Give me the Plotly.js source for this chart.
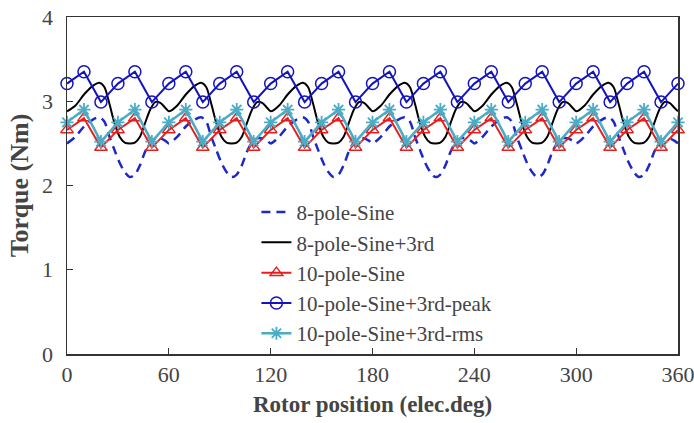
<!DOCTYPE html>
<html>
<head>
<meta charset="utf-8">
<script src="https://cdn.plot.ly/plotly-3.0.1.min.js"></script>
<style>html,body{margin:0;padding:0;background:#fff;}#chart{width:694px;height:423px;}</style>
</head>
<body>
<div id="chart"></div>
<script>
// Smooth curves (8-pole) sampled positions, elec. deg
const xSmooth = [
  0,5,10,15,19,22,25,28,31,34,37,40,43,46,49,52,55,58,
  60,65,70,75,79,82,85,88,91,94,97,100,103,106,109,112,115,118,
  120,125,130,135,139,142,145,148,151,154,157,160,163,166,169,172,175,178,
  180,185,190,195,199,202,205,208,211,214,217,220,223,226,229,232,235,238,
  240,245,250,255,259,262,265,268,271,274,277,280,283,286,289,292,295,298,
  300,305,310,315,319,322,325,328,331,334,337,340,343,346,349,352,355,358,
  360
];
const pole8Sine = [
  2.50,2.58,2.70,2.78,2.81,2.76,2.58,2.42,2.27,2.16,2.10,2.13,2.24,2.40,2.51,2.56,2.56,2.53,
  2.50,2.58,2.70,2.78,2.81,2.76,2.58,2.42,2.27,2.16,2.10,2.13,2.24,2.40,2.51,2.56,2.56,2.53,
  2.50,2.58,2.70,2.78,2.81,2.76,2.58,2.42,2.27,2.16,2.10,2.13,2.24,2.40,2.51,2.56,2.56,2.53,
  2.50,2.58,2.70,2.78,2.81,2.76,2.58,2.42,2.27,2.16,2.10,2.13,2.24,2.40,2.51,2.56,2.56,2.53,
  2.50,2.58,2.70,2.78,2.81,2.76,2.58,2.42,2.27,2.16,2.10,2.13,2.24,2.40,2.51,2.56,2.56,2.53,
  2.50,2.58,2.70,2.78,2.81,2.76,2.58,2.42,2.27,2.16,2.10,2.13,2.24,2.40,2.51,2.56,2.56,2.53,
  2.50
];
const pole8Sine3rd = [
  2.88,2.95,3.08,3.18,3.22,3.17,2.97,2.74,2.58,2.51,2.50,2.51,2.58,2.74,2.90,2.99,2.98,2.92,
  2.88,2.95,3.08,3.18,3.22,3.17,2.97,2.74,2.58,2.51,2.50,2.51,2.58,2.74,2.90,2.99,2.98,2.92,
  2.88,2.95,3.08,3.18,3.22,3.17,2.97,2.74,2.58,2.51,2.50,2.51,2.58,2.74,2.90,2.99,2.98,2.92,
  2.88,2.95,3.08,3.18,3.22,3.17,2.97,2.74,2.58,2.51,2.50,2.51,2.58,2.74,2.90,2.99,2.98,2.92,
  2.88,2.95,3.08,3.18,3.22,3.17,2.97,2.74,2.58,2.51,2.50,2.51,2.58,2.74,2.90,2.99,2.98,2.92,
  2.88,2.95,3.08,3.18,3.22,3.17,2.97,2.74,2.58,2.51,2.50,2.51,2.58,2.74,2.90,2.99,2.98,2.92,
  2.88
];
// Marker series (10-pole) positions, elec. deg
const xMarked = [0,10,20,30,40,50,60,70,80,90,100,110,120,130,140,150,160,170,180,
  190,200,210,220,230,240,250,260,270,280,290,300,310,320,330,340,350,360];
const pole10Sine = [2.66,2.80,2.45,2.66,2.80,2.45,2.66,2.80,2.45,2.66,2.80,2.45,2.66,2.80,2.45,
  2.66,2.80,2.45,2.66,2.80,2.45,2.66,2.80,2.45,2.66,2.80,2.45,2.66,2.80,2.45,2.66,2.80,2.45,
  2.66,2.80,2.45,2.66];
const pole10Peak = [3.21,3.35,2.99,3.21,3.35,2.99,3.21,3.35,2.99,3.21,3.35,2.99,3.21,3.35,2.99,
  3.21,3.35,2.99,3.21,3.35,2.99,3.21,3.35,2.99,3.21,3.35,2.99,3.21,3.35,2.99,3.21,3.35,2.99,
  3.21,3.35,2.99,3.21];
const pole10Rms = [2.75,2.90,2.52,2.75,2.90,2.52,2.75,2.90,2.52,2.75,2.90,2.52,2.75,2.90,2.52,
  2.75,2.90,2.52,2.75,2.90,2.52,2.75,2.90,2.52,2.75,2.90,2.52,2.75,2.90,2.52,2.75,2.90,2.52,
  2.75,2.90,2.52,2.75];

const seriesNames = ['8-pole-Sine','8-pole-Sine+3rd','10-pole-Sine','10-pole-Sine+3rd-peak','10-pole-Sine+3rd-rms'];
const xTicks = [0,60,120,180,240,300,360];
const yTicks = [0,1,2,3,4];

const traces = [
  {x:xSmooth, y:pole8Sine, name:seriesNames[0], mode:'lines',
   line:{color:'rgb(30,40,200)', width:2.5, dash:'9px,6px', shape:'spline', smoothing:0.8}},
  {x:xSmooth, y:pole8Sine3rd, name:seriesNames[1], mode:'lines',
   line:{color:'black', width:2, shape:'spline', smoothing:0.8}},
  {x:xMarked, y:pole10Sine, name:seriesNames[2], mode:'lines+markers', cliponaxis:false,
   line:{color:'rgb(230,30,30)', width:2},
   marker:{symbol:'triangle-up-open', size:11, color:'rgb(230,30,30)', line:{width:1.5}}},
  {x:xMarked, y:pole10Peak, name:seriesNames[3], mode:'lines+markers', cliponaxis:false,
   line:{color:'rgb(20,20,190)', width:2},
   marker:{symbol:'circle-open', size:12, color:'rgb(20,20,190)', line:{width:1.5}}},
  {x:xMarked, y:pole10Rms, name:seriesNames[4], mode:'lines+markers', cliponaxis:false,
   line:{color:'rgb(75,172,198)', width:2.5},
   marker:{symbol:'asterisk-open', size:11, color:'rgb(75,172,198)', line:{width:1.8, color:'rgb(75,172,198)'}}}
];

const layout = {
  width:694, height:423,
  margin:{l:67, r:16, t:17, b:69},
  paper_bgcolor:'white', plot_bgcolor:'white',
  showlegend:true,
  legend:{x:0.31, y:0.481, xanchor:'left', yanchor:'top', bgcolor:'rgba(0,0,0,0)',
    font:{family:'Liberation Serif', size:21}, itemwidth:30, tracegroupgap:0},
  xaxis:{range:[0,360], tickvals:xTicks, ticktext:xTicks.map(String), ticks:'inside', ticklen:6, tickcolor:'#333',
    showline:true, mirror:true, linecolor:'#333', linewidth:1.5, showgrid:false, zeroline:false,
    tickfont:{family:'Liberation Serif', size:22}, ticklabelstandoff:0, ticklabeloverflow:'allow',
    title:{text:'<b>Rotor position (elec.deg)</b>', font:{family:'Liberation Serif', size:23}, standoff:10}},
  yaxis:{range:[0,4], tickvals:yTicks, ticktext:yTicks.map(String), ticks:'inside', ticklen:6, tickcolor:'#333',
    showline:true, mirror:true, linecolor:'#333', linewidth:1.5, showgrid:false, zeroline:false,
    tickfont:{family:'Liberation Serif', size:22}, ticklabelstandoff:8, ticklabeloverflow:'allow',
    title:{text:'<b>Torque (Nm)</b>', font:{family:'Liberation Serif', size:26}, standoff:6}}
};

Plotly.newPlot('chart', traces, layout, {staticPlot:true, displayModeBar:false});
</script>
</body>
</html>
